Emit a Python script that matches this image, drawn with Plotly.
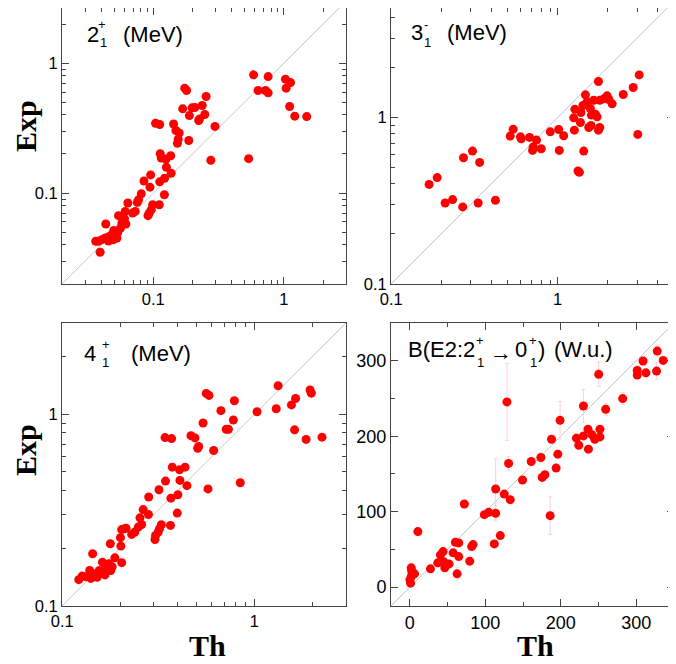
import numpy as np
import plotly.graph_objects as go

# 2+_1 energies (MeV)
th_2 = [0.174, 0.180, 0.254, 0.168, 0.198, 0.208, 0.237, 0.189, 0.248, 0.226, 0.223, 0.297,
        0.104, 0.112, 0.143, 0.149, 0.158, 0.155, 0.153, 0.187, 0.276, 0.113, 0.115, 0.125,
        0.136, 0.126, 0.137, 0.122, 0.112, 0.0954, 0.0848, 0.0943, 0.0809, 0.0771, 0.0753,
        0.1216, 0.0638, 0.111, 0.0988, 0.0966, 0.0931, 0.091, 0.0727, 0.0694, 0.0609, 0.0541,
        0.0601, 0.0616, 0.0574, 0.0432, 0.0561, 0.0534, 0.0498, 0.0481, 0.0511, 0.0459, 0.0428,
        0.0403, 0.0380, 0.0362, 0.0526, 0.0495, 0.0453, 0.0391,
        0.587, 0.759, 0.635, 0.723, 0.759, 1.03, 1.127, 1.043, 1.11, 1.215, 1.5, 0.538]
ex_2 = [0.642, 0.616, 0.554, 0.445, 0.453, 0.456, 0.472, 0.395, 0.403, 0.371, 0.362, 0.326,
        0.345, 0.337, 0.340, 0.303, 0.290, 0.260, 0.242, 0.254, 0.179, 0.201, 0.186, 0.183,
        0.194, 0.158, 0.142, 0.130, 0.122, 0.138, 0.124, 0.111, 0.0988, 0.0889, 0.0848,
        0.097, 0.0838, 0.0813, 0.0813, 0.0745, 0.0702, 0.067, 0.0723, 0.0702, 0.0723, 0.067,
        0.0635, 0.0578, 0.0588, 0.0578, 0.0538, 0.0498, 0.0516, 0.0478, 0.0464, 0.0464, 0.0451,
        0.0438, 0.0425, 0.0425, 0.0451, 0.0438, 0.0427, 0.035,
        0.813, 0.789, 0.616, 0.616, 0.591, 0.753, 0.709, 0.642, 0.464, 0.391, 0.388, 0.184]

# 3-_1 energies (MeV)
th_3 = [0.169, 0.189, 0.211, 0.234, 0.269, 0.272, 0.308, 0.340, 0.333, 0.423, 0.519, 0.541,
        0.598, 0.604, 0.678, 0.747, 0.713, 0.707, 0.797, 0.903, 1.014, 1.087, 1.023, 1.249,
        1.26, 1.27, 1.37, 1.38, 1.325, 1.351, 1.435, 1.42, 1.468, 1.503, 1.538, 1.588, 1.573,
        1.595, 1.648, 1.686, 1.726, 1.758, 1.758, 1.791, 1.791, 1.892, 1.982, 2.03, 2.125,
        2.477, 2.844, 3.09, 3.03]
ex_3 = [0.396, 0.435, 0.306, 0.321, 0.290, 0.573, 0.628, 0.537, 0.306, 0.318, 0.773, 0.851,
        0.765, 0.745, 0.759, 0.731, 0.664, 0.634, 0.649, 0.820, 0.847, 0.776, 0.634, 0.995,
        0.839, 1.122, 0.933, 1.072, 0.477, 0.468, 0.628, 1.18, 1.368, 1.242, 0.871, 0.895, 1.132,
        1.033, 1.27, 1.047, 1.009, 1.644, 0.839, 0.871, 1.27, 1.294, 1.349, 1.282, 1.208,
        1.374, 1.514, 1.803, 0.791]

# 4+_1 energies (MeV)
th_4 = [0.562, 0.581, 0.787, 0.67, 1.033, 0.778, 0.541, 0.714, 0.733, 0.468, 0.491, 0.507,
        0.513, 0.614, 0.343, 0.371, 0.374, 0.408, 0.436, 0.41, 0.345, 0.446, 0.319, 0.574,
        0.845, 0.282, 0.368, 0.400, 0.397, 0.264, 0.281, 0.254, 0.259, 0.249, 0.239, 0.328,
        0.321, 0.316, 0.306, 0.304, 0.366, 0.211, 0.215, 0.204, 0.201, 0.23, 0.202, 0.178,
        0.144, 0.188, 0.204, 0.162, 0.175, 0.182, 0.168, 0.156, 0.139, 0.149, 0.141, 0.152,
        0.167, 0.127, 0.122, 0.132, 0.179,
        1.30, 1.33, 1.56, 1.62, 1.95, 1.98, 1.64, 1.86, 2.25]
ex_4 = [1.286, 1.256, 1.178, 1.045, 1.032, 0.934, 0.901, 0.836, 0.836, 0.774, 0.753, 0.665,
        0.679, 0.647, 0.756, 0.747, 0.530, 0.513, 0.530, 0.452, 0.448, 0.424, 0.404, 0.408,
        0.439, 0.37, 0.365, 0.380, 0.305, 0.318, 0.30, 0.288, 0.266, 0.258, 0.243, 0.265,
        0.253, 0.243, 0.233, 0.222, 0.263, 0.253, 0.254, 0.25, 0.227, 0.236, 0.205, 0.211,
        0.187, 0.178, 0.168, 0.169, 0.166, 0.16, 0.156, 0.153, 0.153, 0.147, 0.139, 0.141,
        0.145, 0.143, 0.137, 0.142, 0.153,
        1.07, 1.41, 1.12, 0.83, 1.34, 1.29, 1.21, 0.74, 0.76]

# B(E2; 2+_1 -> 0+_1) in W.u.
th_be2 = [350, 327.8, 309, 335.7, 301.3, 301.3, 312.8, 326.9, 250.2, 230, 282, 259.5, 220.7,
          223.8, 230, 236, 236.6, 241.4, 245, 251.9, 251.9, 128.6, 199, 187.7, 196, 173.6,
          193.8, 175.3, 178.9, 160.8, 149.3, 130.8, 113.7, 125.1, 133, 185.9, 98.7, 104.4,
          113.7, 72.2, 111.9, 119.8, 10.6, 60.4, 64.8, 83.7, 81.9, 57.3, 64.8, 40.5, 44, 79.3,
          37, 45, 52, 46.3, 62.6, 27.3, 1.8, 2.2, 6.2, 1.8, 0, 0.9]
ex_be2 = [322, 312.8, 299.6, 300.4, 287.2, 281, 284, 286.3, 282, 240, 249.8, 235.7, 197.4,
          188, 200.4, 209.3, 182.8, 201.8, 196, 209.3, 199.1, 245.4, 221, 196, 176.2, 171.8,
          157.7, 145.4, 148.9, 166.5, 141.9, 163.9, 130, 123.3, 115.9, 94.7, 96, 99.1, 97.8,
          110.1, 57.3, 68.3, 73.6, 59.5, 58.6, 56.4, 53.7, 45.4, 40.5, 42.7, 47.1, 34.4, 32.2,
          33.5, 30.8, 25.6, 17.6, 24.2, 25.6, 22, 17.6, 14.1, 9.7, 5.3]
err_be2 = [0, 8, 6, 4, 6, 4, 4, 11, 16, 22, 8, 8, 6, 4, 4, 4, 4, 4, 4, 4, 4, 51, 25, 4, 4, 6,
           4, 4, 4, 3, 3, 9, 40, 3, 3, 25, 3, 3, 10, 5, 3, 3, 4, 3, 3, 3, 3, 3, 3, 3, 3, 3,
           3, 3, 3, 3, 8, 3, 3, 3, 3, 2, 2, 2]

# the page body adds an 8px margin, so the figure is 8px smaller and all
# window pixel positions below are shifted by OFF
OFF = 8
W, H = 676 - OFF, 664 - OFF
LINE = "#444444"
SANS = "Liberation Sans, Arial"
LABFONT = dict(family=SANS, size=22, color="black")
SMALL = dict(family=SANS, size=13, color="black")
BIG = dict(family="Liberation Serif, Times New Roman", size=30, color="black", weight="bold")


def xd(a, b):
    return [(a - OFF) / W, (b - OFF) / W]


def yd(top, bottom):
    return [1 - (bottom - OFF) / H, 1 - (top - OFF) / H]


def axis(domain, lo, hi, anchor, log=True):
    ax = dict(
        domain=domain, anchor=anchor, showgrid=False, zeroline=False, automargin=False,
        showline=True, linecolor=LINE, linewidth=1, mirror="ticks",
        ticks="inside", ticklen=7, tickwidth=1, tickcolor=LINE, fixedrange=True,
    )
    if log:
        ax.update(type="log", range=[np.log10(lo) - 0.001, np.log10(hi)], dtick=1,
                  tickfont=dict(family=SANS, size=16.5, color="black"),
                  minor=dict(ticks="inside", ticklen=4, dtick="D1", tickcolor=LINE, showgrid=False))
    else:
        ax.update(range=[lo, hi], dtick=100,
                  tickfont=dict(family=SANS, size=18, color="black"),
                  minor=dict(ticks="inside", ticklen=4, dtick=50, tickcolor=LINE, showgrid=False))
    return ax


fig = go.Figure()

panels = [
    (th_2, ex_2, 0.02, 3, "x", "y"),
    (th_3, ex_3, 0.1, 5, "x2", "y2"),
    (th_4, ex_4, 0.1, 3, "x3", "y3"),
]
for th, ex, lo, hi, xa, ya in panels:
    fig.add_trace(go.Scatter(x=[lo, hi], y=[lo, hi], mode="lines", xaxis=xa, yaxis=ya,
                             line=dict(color="#c8c8c8", width=1), hoverinfo="skip"))
    fig.add_trace(go.Scatter(x=th, y=ex, mode="markers", xaxis=xa, yaxis=ya,
                             marker=dict(color="#ff0000", size=9)))

fig.add_trace(go.Scatter(x=[-25, 350], y=[-25, 350], mode="lines", xaxis="x4", yaxis="y4",
                         line=dict(color="#c8c8c8", width=1), hoverinfo="skip"))
fig.add_trace(go.Scatter(
    x=th_be2, y=ex_be2, mode="markers", xaxis="x4", yaxis="y4",
    marker=dict(color="#ff0000", size=9),
    error_y=dict(type="data", array=err_be2, color="#ffd2d2", thickness=1, width=2),
))

L, R = (62, 346), (391, 674)
T, B = (OFF, 284), (323, 606)

# top row starts at the page edge, so its y range is cut a little below the nominal top
fig.update_layout(
    width=W, height=H, margin=dict(l=0, r=0, t=0, b=0),
    paper_bgcolor="white", plot_bgcolor="white", showlegend=False,
    xaxis=axis(xd(*L), 0.02, 3, "y"),
    yaxis=axis(yd(*T), 0.02, 2.66, "x"),
    xaxis2=axis(xd(*R), 0.1, 5, "y2"),
    yaxis2=axis(yd(*T), 0.1, 4.55, "x2"),
    xaxis3=axis(xd(*L), 0.1, 3, "y3"),
    yaxis3=axis(yd(*B), 0.1, 3, "x3"),
    xaxis4=axis(xd(*R), -25, 350, "y4", log=False),
    yaxis4=axis(yd(*B), -25, 350, "x4", log=False),
)


def note(text, x, y, font, xanchor="center", angle=0):
    fig.add_annotation(text=text, x=(x - OFF) / W, y=1 - (y - OFF) / H,
                       xref="paper", yref="paper", showarrow=False, font=font,
                       xanchor=xanchor, yanchor="middle", textangle=angle)


# panel labels with stacked sub/superscripts
note("2", 93, 34, LABFONT)
note("+", 102, 25, SMALL)
note("1", 103, 43, SMALL)
note("(MeV)", 153, 34, LABFONT)

note("3", 417, 33, LABFONT)
note("-", 426, 24, SMALL)
note("1", 427, 42, SMALL)
note("(MeV)", 477, 33, LABFONT)

note("4", 90, 353, LABFONT)
note("+", 106, 344, SMALL)
note("1", 105, 362, SMALL)
note("(MeV)", 161, 353, LABFONT)

note("B(E2:2", 477, 349, LABFONT, xanchor="right")
note("+", 480, 341, SMALL)
note("1", 480, 362, SMALL)
note("\u2192", 501, 352, LABFONT)
note("0", 521, 349, LABFONT)
note("+", 533, 341, SMALL)
note("1", 533, 362, SMALL)
note(")", 536, 349, LABFONT, xanchor="left")
note("(W.u.)", 552, 349, LABFONT, xanchor="left")

# axis titles
note("Exp", 25, 126, BIG, angle=-90)
note("Exp", 25, 450, BIG, angle=-90)
note("Th", 208, 645, BIG)
note("Th", 535, 645, BIG)

fig.write_html("out.html")
